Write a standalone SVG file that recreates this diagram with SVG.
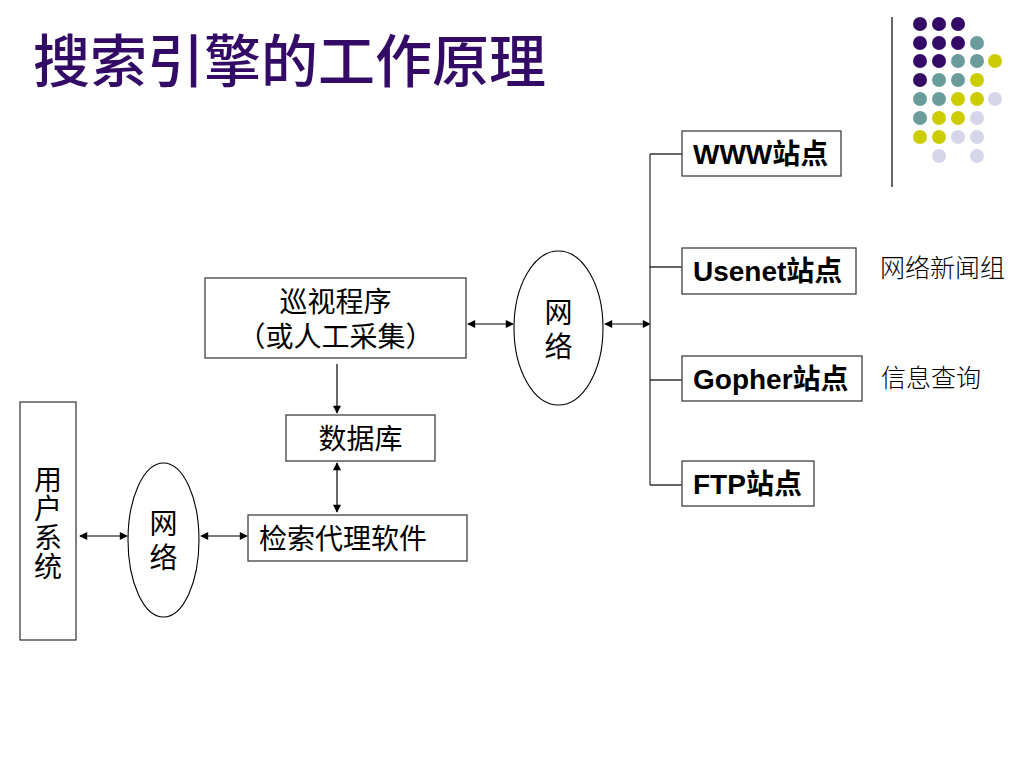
<svg xmlns="http://www.w3.org/2000/svg" width="1024" height="768" viewBox="0 0 1024 768">
<defs>
<marker id="ah" viewBox="0 0 10 10" refX="9" refY="5" markerWidth="9" markerHeight="8" markerUnits="userSpaceOnUse" orient="auto-start-reverse">
<path d="M0,0 L10,5 L0,10 z" fill="#000"/>
</marker>
<style>
.box{fill:#fff;stroke:#404040;stroke-width:1.3}
.ell{fill:#fff;stroke:#000;stroke-width:1.1}
.t{font-family:"Liberation Sans","Noto Sans CJK SC",sans-serif;font-size:28px;font-weight:400;fill:#000}
.b{font-family:"Liberation Sans","Noto Sans CJK SC",sans-serif;font-size:28px;font-weight:bold;fill:#000}
.n{font-family:"Noto Sans CJK SC",sans-serif;font-size:25px;font-weight:300;fill:#000}
.ln{stroke:#000;stroke-width:1.2;fill:none}
.gl{stroke:#555;stroke-width:1.5;fill:none}
.p{fill:#330a66}.g{fill:#6b9c9c}.y{fill:#cccc00}.l{fill:#d6d6ea}
</style>
</defs>
<rect width="1024" height="768" fill="#fff"/>
<text x="33" y="82" font-family="Noto Sans CJK SC, sans-serif" font-size="57" font-weight="500" fill="#330a66">搜索引擎的工作原理</text>
<g id="decor">
<line x1="892" y1="17" x2="892" y2="187" stroke="#333" stroke-width="1.5"/>
<circle class="p" cx="920" cy="24" r="7"/><circle class="p" cx="939" cy="24" r="7"/><circle class="p" cx="958" cy="24" r="7"/>
<circle class="p" cx="920" cy="43" r="7"/><circle class="p" cx="939" cy="43" r="7"/><circle class="p" cx="958" cy="43" r="7"/><circle class="g" cx="977" cy="43" r="7"/>
<circle class="p" cx="920" cy="61" r="7"/><circle class="p" cx="939" cy="61" r="7"/><circle class="g" cx="958" cy="61" r="7"/><circle class="g" cx="977" cy="61" r="7"/><circle class="y" cx="995" cy="61" r="7"/>
<circle class="p" cx="920" cy="80" r="7"/><circle class="g" cx="939" cy="80" r="7"/><circle class="g" cx="958" cy="80" r="7"/><circle class="y" cx="977" cy="80" r="7"/>
<circle class="g" cx="920" cy="99" r="7"/><circle class="g" cx="939" cy="99" r="7"/><circle class="y" cx="958" cy="99" r="7"/><circle class="y" cx="977" cy="99" r="7"/><circle class="l" cx="995" cy="99" r="7"/>
<circle class="g" cx="920" cy="118" r="7"/><circle class="y" cx="939" cy="118" r="7"/><circle class="y" cx="958" cy="118" r="7"/><circle class="l" cx="977" cy="118" r="7"/>
<circle class="y" cx="920" cy="137" r="7"/><circle class="y" cx="939" cy="137" r="7"/><circle class="l" cx="958" cy="137" r="7"/><circle class="l" cx="977" cy="137" r="7"/>
<circle class="l" cx="939" cy="156" r="7"/><circle class="l" cx="977" cy="156" r="7"/>
</g>
<g id="connectors">
<line class="ln" x1="468" y1="324" x2="513" y2="324" marker-start="url(#ah)" marker-end="url(#ah)"/>
<line class="ln" x1="605" y1="324" x2="650" y2="324" marker-start="url(#ah)" marker-end="url(#ah)"/>
<line class="gl" x1="650" y1="154" x2="650" y2="485"/>
<line class="ln" x1="650" y1="154" x2="682" y2="154"/>
<line class="ln" x1="650" y1="267" x2="682" y2="267"/>
<line class="ln" x1="650" y1="380" x2="682" y2="380"/>
<line class="ln" x1="650" y1="485" x2="682" y2="485"/>
<line class="ln" x1="337" y1="364" x2="337" y2="413" marker-end="url(#ah)"/>
<line class="ln" x1="337" y1="463" x2="337" y2="512" marker-start="url(#ah)" marker-end="url(#ah)"/>
<line class="ln" x1="80" y1="536" x2="127" y2="536" marker-start="url(#ah)" marker-end="url(#ah)"/>
<line class="ln" x1="201" y1="536" x2="247" y2="536" marker-start="url(#ah)" marker-end="url(#ah)"/>
</g>
<g id="crawler">
<rect class="box" x="205" y="278" width="261" height="80"/>
<text class="t" x="335.5" y="312" text-anchor="middle">巡视程序</text>
<text class="t" x="335.5" y="347" text-anchor="middle">（或人工采集）</text>
</g>
<g id="net-top">
<ellipse class="ell" cx="558.5" cy="328" rx="44.5" ry="77"/>
<text class="t" x="558.5" y="323" text-anchor="middle">网</text>
<text class="t" x="558.5" y="357" text-anchor="middle">络</text>
</g>
<g id="www">
<rect class="box" x="682" y="131" width="159" height="45"/>
<text class="b" x="693" y="164">WWW站点</text>
</g>
<g id="usenet">
<rect class="box" x="682" y="248" width="174" height="46"/>
<text class="b" x="693" y="281">Usenet站点</text>
<text class="n" x="880" y="277">网络新闻组</text>
</g>
<g id="gopher">
<rect class="box" x="682" y="356" width="180" height="45"/>
<text class="b" x="693" y="389">Gopher站点</text>
<text class="n" x="881" y="387">信息查询</text>
</g>
<g id="ftp">
<rect class="box" x="682" y="461" width="132" height="45"/>
<text class="b" x="693" y="494">FTP站点</text>
</g>
<g id="database">
<rect class="box" x="286" y="415" width="149" height="46"/>
<text class="t" x="360.5" y="449" text-anchor="middle">数据库</text>
</g>
<g id="agent">
<rect class="box" x="248" y="515" width="219" height="46"/>
<text class="t" x="259" y="549">检索代理软件</text>
</g>
<g id="net-bottom">
<ellipse class="ell" cx="163.5" cy="540" rx="35.5" ry="77"/>
<text class="t" x="163.5" y="534" text-anchor="middle">网</text>
<text class="t" x="163.5" y="568" text-anchor="middle">络</text>
</g>
<g id="user">
<rect class="box" x="20" y="402" width="56" height="238"/>
<text class="t" x="48" y="490" text-anchor="middle">用</text>
<text class="t" x="48" y="519" text-anchor="middle">户</text>
<text class="t" x="48" y="548" text-anchor="middle">系</text>
<text class="t" x="48" y="577" text-anchor="middle">统</text>
</g>
</svg>
